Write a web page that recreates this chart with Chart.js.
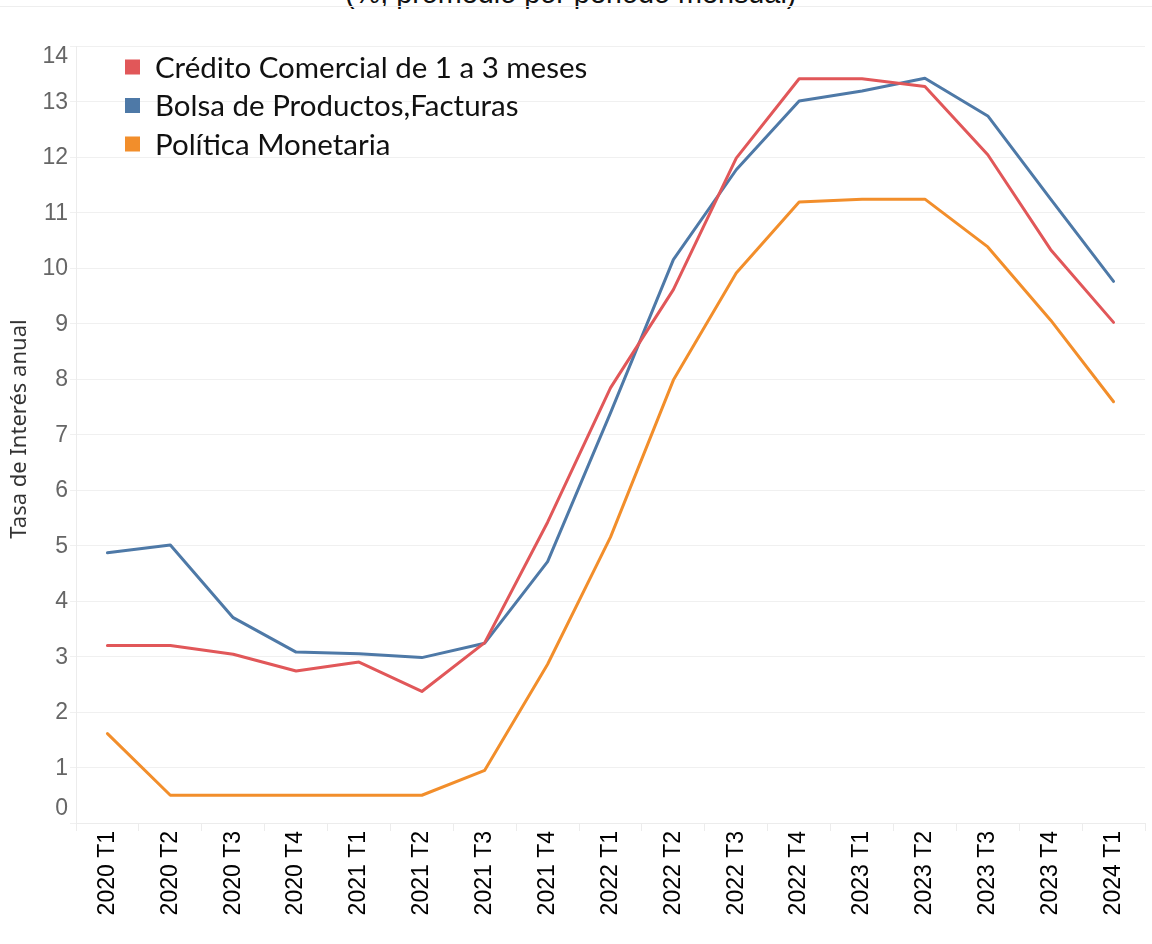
<!DOCTYPE html>
<html>
<head>
<meta charset="utf-8">
<script src="https://cdn.jsdelivr.net/npm/chart.js@4.4.1/dist/chart.umd.min.js"></script>
<style>
  html, body { margin: 0; padding: 0; background: #ffffff; }
  #wrap { position: relative; width: 1152px; height: 944px; overflow: hidden; }
  #topTitle { position: absolute; left: 345px; top: -24px; font-family: "Liberation Sans", Arial, sans-serif; font-size: 28.8px; line-height: 34px; color: #111; white-space: nowrap; }
  #topRule { position: absolute; left: 0; top: 6px; width: 1152px; height: 0; border-top: 1px solid #eeeeee; }
  canvas { position: absolute; left: 0; top: 0; }
</style>
</head>
<body>
<div id="wrap">
  <div id="topTitle">(%, promedio por periodo mensual)</div>
  <div id="topRule"></div>
  <canvas id="c" width="1152" height="944"></canvas>
</div>
<script>
const categories = ['2020 T1','2020 T2','2020 T3','2020 T4','2021 T1','2021 T2','2021 T3','2021 T4','2022 T1','2022 T2','2022 T3','2022 T4','2023 T1','2023 T2','2023 T3','2023 T4','2024 T1'];
const credito  = [3.20, 3.20, 3.04, 2.74, 2.90, 2.37, 3.25, 5.42, 7.84, 9.61, 11.98, 13.41, 13.41, 13.27, 12.04, 10.33, 9.02];
const bolsa    = [4.87, 5.01, 3.70, 3.08, 3.05, 2.98, 3.24, 4.71, 7.39, 10.15, 11.77, 13.01, 13.19, 13.42, 12.74, 11.24, 9.76];
const politica = [1.61, 0.50, 0.50, 0.50, 0.50, 0.50, 0.95, 2.86, 5.15, 7.98, 9.91, 11.19, 11.24, 11.24, 10.38, 9.06, 7.59];
const seriesNames = ['Crédito Comercial de 1 a 3 meses', 'Bolsa de Productos,Facturas', 'Política Monetaria'];
const yTicks = [0,1,2,3,4,5,6,7,8,9,10,11,12,13,14];
const yTitle = 'Tasa de Interés anual';

const colors = ['#e15759', '#4e79a7', '#f28e2b'];

const overlay = {
  id: 'overlay',
  afterDraw(chart) {
    const ctx = chart.ctx;
    const y = chart.scales.y;
    const area = chart.chartArea;
    ctx.save();
    // y tick labels (clamped inside the pane like the original)
    ctx.font = '23px "Liberation Sans", Arial, sans-serif';
    ctx.fillStyle = '#666666';
    ctx.textAlign = 'right';
    ctx.textBaseline = 'middle';
    yTicks.forEach(v => {
      let py = y.getPixelForValue(v);
      py = Math.max(area.top + 10, Math.min(area.bottom - 15, py));
      ctx.fillText(String(v), 68, py + 1);
    });
    // y axis title
    ctx.save();
    ctx.translate(20, 429);
    ctx.rotate(-Math.PI / 2);
    ctx.font = '22px "Noto Sans", sans-serif';
    ctx.fillStyle = '#333333';
    ctx.textAlign = 'center';
    ctx.textBaseline = 'middle';
    ctx.fillText(yTitle, 0, 0);
    ctx.restore();
    // legend
    ctx.font = '29.5px Lato, "Noto Sans", sans-serif';
    ctx.textAlign = 'left';
    ctx.textBaseline = 'middle';
    const rows = [67, 105.5, 144];
    seriesNames.forEach((name, i) => {
      ctx.fillStyle = colors[i];
      ctx.fillRect(125, rows[i] - 7.5, 15, 15);
      ctx.fillStyle = '#111111';
      ctx.fillText(name, 155, rows[i] + 1);
    });
    ctx.restore();
  }
};

new Chart(document.getElementById('c'), {
  type: 'line',
  data: {
    labels: categories,
    datasets: [
      { label: seriesNames[0], data: credito,  borderColor: colors[0], backgroundColor: colors[0] },
      { label: seriesNames[1], data: bolsa,    borderColor: colors[1], backgroundColor: colors[1] },
      { label: seriesNames[2], data: politica, borderColor: colors[2], backgroundColor: colors[2] }
    ]
  },
  options: {
    responsive: false,
    animation: false,
    devicePixelRatio: 1,
    layout: { padding: { top: 46, right: 7, left: 0, bottom: 0 } },
    elements: {
      line: { borderWidth: 3, tension: 0, borderJoinStyle: 'round', borderCapStyle: 'round' },
      point: { radius: 0, hoverRadius: 0 }
    },
    plugins: { legend: { display: false }, tooltip: { enabled: false }, title: { display: false } },
    scales: {
      x: {
        type: 'category',
        offset: true,
        grid: { display: true, drawOnChartArea: false, drawTicks: true, tickLength: 8, color: '#ececec', offset: true },
        border: { display: true, color: '#ececec' },
        ticks: {
          minRotation: 90, maxRotation: 90, padding: 0,
          color: '#000000',
          font: { family: '"Liberation Sans", Arial, sans-serif', size: 23 }
        },
        afterFit(scale) { scale.height = 944 - 823; }
      },
      y: {
        min: 0, max: 14,
        ticks: { stepSize: 1, display: false },
        grid: { color: '#f0f0f0', drawTicks: true, tickLength: 6 },
        border: { display: true, color: '#ececec' },
        afterFit(scale) { scale.width = 76; }
      }
    }
  },
  plugins: [overlay]
});
</script>
</body>
</html>
